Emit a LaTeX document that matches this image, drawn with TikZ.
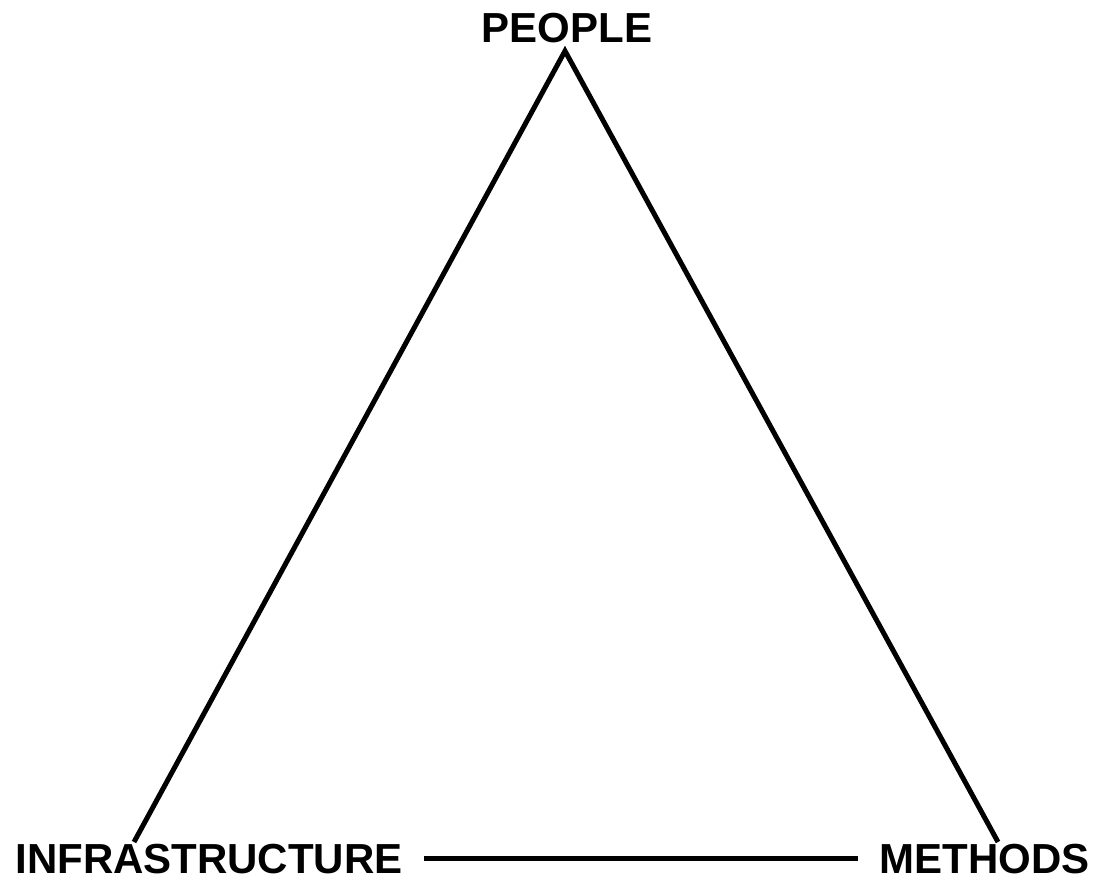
\documentclass[tikz,border=0pt]{standalone}
\usepackage{fontspec}
\setmainfont{Liberation Sans}
\usepackage{tikz}
\usetikzlibrary{positioning, calc}
\definecolor{mydark}{RGB}{0,0,0}
\tikzset{
  corner/.style={font=\fontsize{42}{48}\selectfont\bfseries, text=mydark,
    inner sep=0pt, anchor=base},
  edge/.style={line width=5pt, color=mydark},
  side/.style={line width=5pt, color=mydark, line cap=butt}
}

\begin{document}
\begin{tikzpicture}[x=1pt, y=-1pt]
  \useasboundingbox (0,0) rectangle (1094,880);
  \node[corner] (people)  at (567,43)   {PEOPLE};
  \node[corner] (infra)   at (209,873)  {INFRASTRUCTURE};
  \node[corner] (methods) at (984.5,873) {METHODS};
  \coordinate (apex)   at (565,51);
  \coordinate (leftend)  at (134,842);
  \coordinate (rightend) at (998,842);
  \draw[side] (leftend) -- (apex) -- (rightend);
  \draw[edge, shorten <=21pt, shorten >=21pt] (infra) -- (methods);
\end{tikzpicture}
\end{document}
